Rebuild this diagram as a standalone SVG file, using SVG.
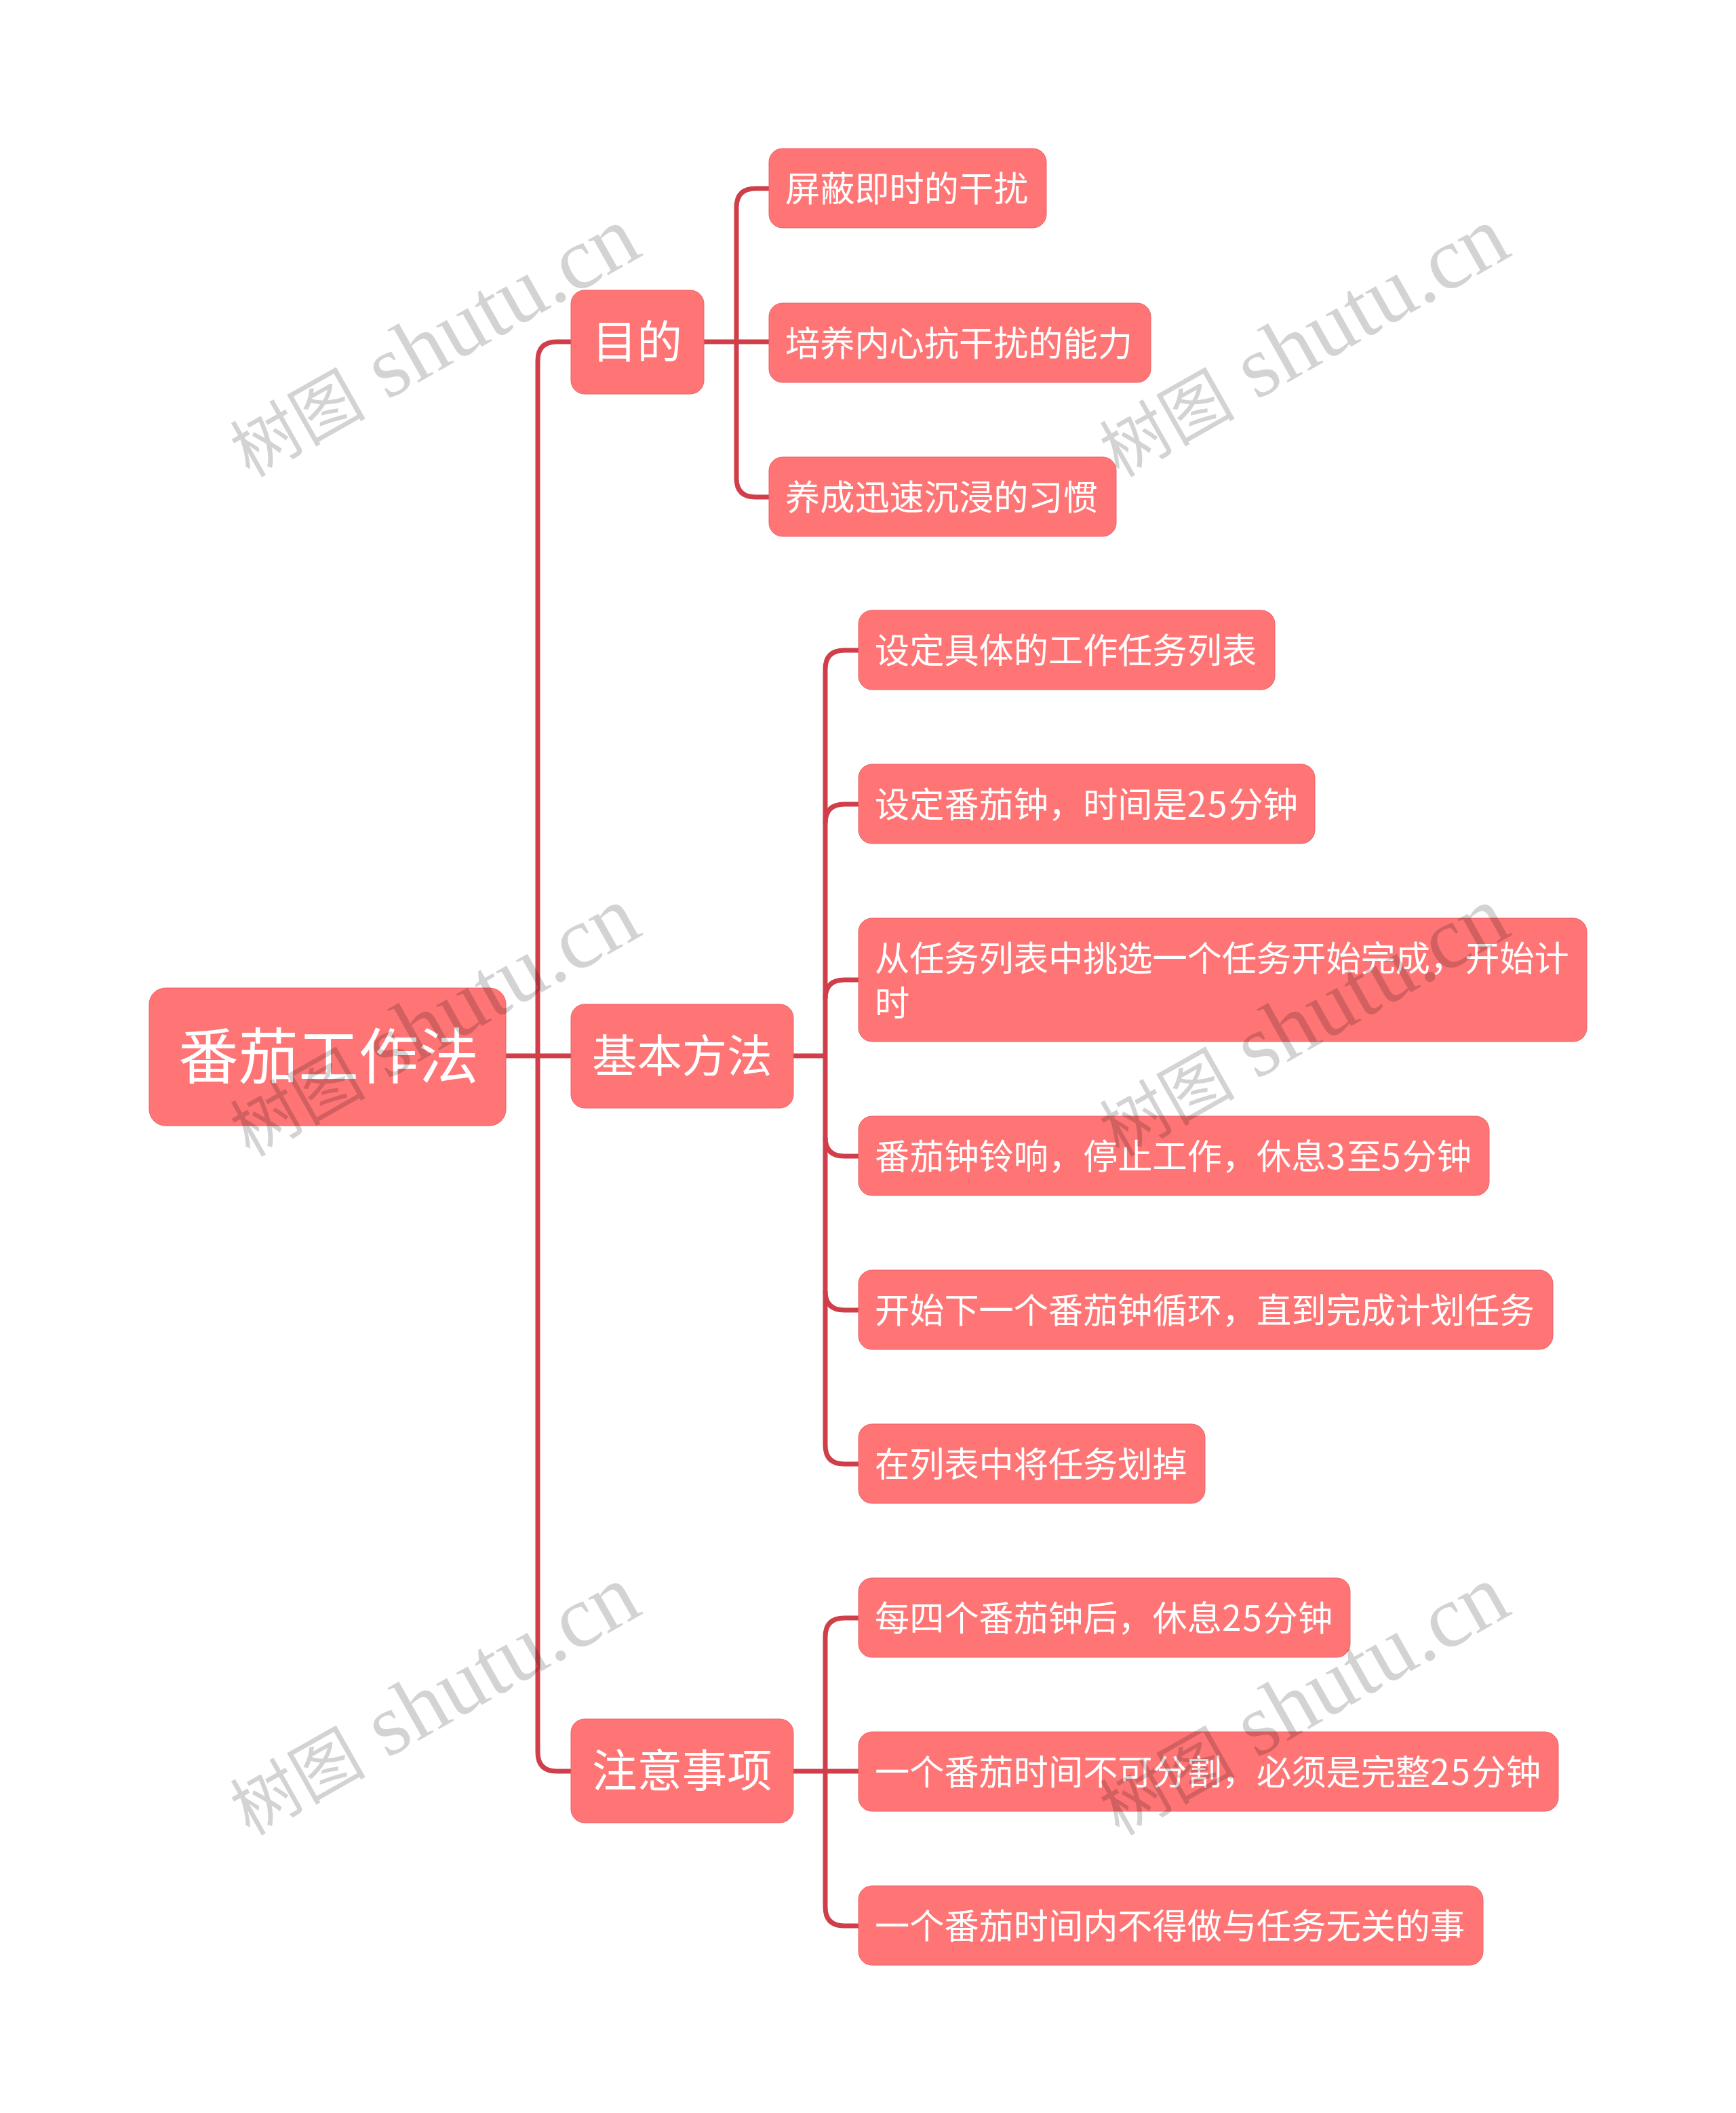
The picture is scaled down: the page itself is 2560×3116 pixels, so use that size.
<svg xmlns="http://www.w3.org/2000/svg" width="2560" height="3116" viewBox="0 0 2560 3116">
<style>
text{font-family:"Noto Sans CJK SC","Noto Sans",sans-serif;fill:#fff}
.n{fill:#ff7575;stroke:#e8636a;stroke-width:1}
.l{fill:none;stroke:#d03f49;stroke-width:7}
.t0{font-size:88.6px}.t1{font-size:66.4px}.t2{font-size:51.2px}
.d{letter-spacing:2px}
.w{font-family:"Liberation Serif","Noto Sans CJK SC",serif;font-size:130px;fill:#000;fill-opacity:.173}
.c{font-family:"Noto Sans CJK SC",serif;font-size:100px;font-weight:400}
</style>
<rect width="2560" height="3116" fill="#fff"/>
<g id="connectors" class="l">
<path d="M746 1557H842"/>
<path d="M842 504H821Q793 504 793 532V2584Q793 2612 821 2612H842"/>
<path d="M1038 504H1134"/>
<path d="M1134 278H1114Q1086 278 1086 306V705Q1086 733 1114 733H1134"/>
<path d="M1170 1557H1217"/>
<path d="M1266 959H1245Q1217 959 1217 987V2131Q1217 2159 1245 2159H1266"/>
<path d="M1266 1186H1245Q1217 1186 1217 1214"/>
<path d="M1266 1445H1245Q1217 1445 1217 1473"/>
<path d="M1266 1705H1245Q1217 1705 1217 1677"/>
<path d="M1266 1932H1245Q1217 1932 1217 1904"/>
<path d="M1170 2612H1266"/>
<path d="M1266 2386H1245Q1217 2386 1217 2414V2812Q1217 2840 1245 2840H1266"/>
</g>
<g id="root"><rect class="n" x="220" y="1457" width="526" height="203" rx="24"/><text class="t0" x="263" y="1590">番茄工作法</text></g>
<g id="n1"><rect class="n" x="842" y="428" width="196" height="153" rx="20"/><text class="t1" x="873" y="528">目的</text></g>
<g id="n2"><rect class="n" x="842" y="1481" width="328" height="153" rx="20"/><text class="t1" x="873" y="1581">基本方法</text></g>
<g id="n3"><rect class="n" x="842" y="2535" width="328" height="153" rx="20"/><text class="t1" x="873" y="2635">注意事项</text></g>
<g id="n11"><rect class="n" x="1134" y="219" width="409" height="117" rx="20"/><text class="t2" x="1158" y="297">屏蔽即时的干扰</text></g>
<g id="n12"><rect class="n" x="1134" y="447" width="563" height="117" rx="20"/><text class="t2" x="1158" y="525">培养内心抗干扰的能力</text></g>
<g id="n13"><rect class="n" x="1134" y="674" width="512" height="117" rx="20"/><text class="t2" x="1158" y="752">养成迅速沉浸的习惯</text></g>
<g id="n21"><rect class="n" x="1266" y="900" width="614" height="117" rx="20"/><text class="t2" x="1290" y="978">设定具体的工作任务列表</text></g>
<g id="n22"><rect class="n" x="1266" y="1127" width="673" height="117" rx="20"/><text class="t2" x="1290" y="1205">设定番茄钟，时间是<tspan class="d">25</tspan>分钟</text></g>
<g id="n23"><rect class="n" x="1266" y="1354" width="1074" height="182" rx="20"/><text class="t2" x="1290" y="1432">从任务列表中挑选一个任务开始完成，开始计<tspan x="1290" y="1498">时</tspan></text></g>
<g id="n24"><rect class="n" x="1266" y="1646" width="930" height="117" rx="20"/><text class="t2" x="1290" y="1724">番茄钟铃响，停止工作，休息<tspan class="d">3</tspan>至<tspan class="d">5</tspan>分钟</text></g>
<g id="n25"><rect class="n" x="1266" y="1873" width="1024" height="117" rx="20"/><text class="t2" x="1290" y="1951">开始下一个番茄钟循环，直到完成计划任务</text></g>
<g id="n26"><rect class="n" x="1266" y="2100" width="511" height="117" rx="20"/><text class="t2" x="1290" y="2178">在列表中将任务划掉</text></g>
<g id="n31"><rect class="n" x="1266" y="2327" width="725" height="117" rx="20"/><text class="t2" x="1290" y="2405">每四个番茄钟后，休息<tspan class="d">25</tspan>分钟</text></g>
<g id="n32"><rect class="n" x="1266" y="2554" width="1032" height="117" rx="20"/><text class="t2" x="1290" y="2632">一个番茄时间不可分割，必须是完整<tspan class="d">25</tspan>分钟</text></g>
<g id="n33"><rect class="n" x="1266" y="2781" width="921" height="117" rx="20"/><text class="t2" x="1290" y="2859">一个番茄时间内不得做与任务无关的事</text></g>
<g id="watermarks">
<text class="w" transform="translate(368 705) rotate(-29.5)"><tspan class="c">树图</tspan> shutu.cn</text>
<text class="w" transform="translate(1650 705) rotate(-29.5)"><tspan class="c">树图</tspan> shutu.cn</text>
<text class="w" transform="translate(368 1707) rotate(-29.5)"><tspan class="c">树图</tspan> shutu.cn</text>
<text class="w" transform="translate(1650 1707) rotate(-29.5)"><tspan class="c">树图</tspan> shutu.cn</text>
<text class="w" transform="translate(368 2708) rotate(-29.5)"><tspan class="c">树图</tspan> shutu.cn</text>
<text class="w" transform="translate(1650 2708) rotate(-29.5)"><tspan class="c">树图</tspan> shutu.cn</text>
</g>
</svg>
